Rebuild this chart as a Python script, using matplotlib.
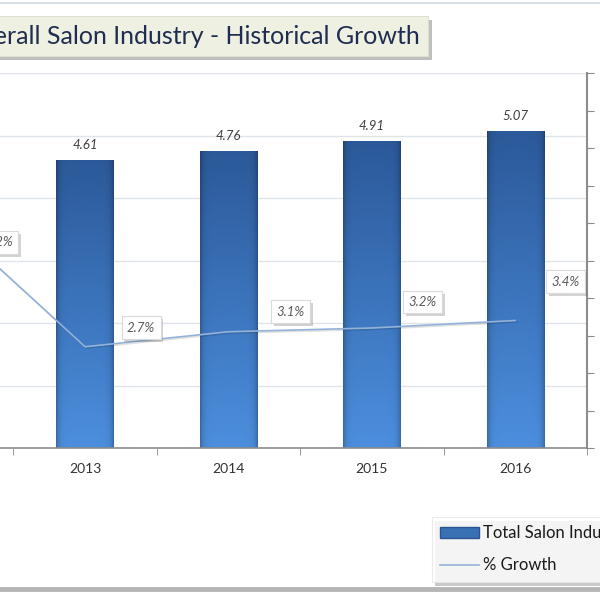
import numpy as np
import matplotlib
matplotlib.use("Agg")
import matplotlib.pyplot as plt
import matplotlib.patheffects as pe
from matplotlib.lines import Line2D
from matplotlib.patches import Patch
from matplotlib.ticker import MultipleLocator

plt.rcParams['font.family'] = ['Lato', 'DejaVu Sans']

years = ['2012', '2013', '2014', '2015', '2016']
revenue = [4.47, 4.61, 4.76, 4.91, 5.07]      # total salon industry, bn
growth = [6.2, 2.7, 3.1, 3.2, 3.4]            # % growth
# label offsets for the growth boxes (pixels)
growth_offsets = [(57, -27), (56, 19), (62, 20), (51, 26), (50, 39)]

W = 600
fig = plt.figure(figsize=(6, 6), dpi=100)
fig.patch.set_facecolor('white')
ax = fig.add_axes([-130 / W, 152 / W, 717 / W, 375 / W])

x = np.arange(len(years))
bars = ax.bar(x, revenue, width=0.4, color='#3a6fb0', zorder=2)

# gradient fill for the bars
ny, nx = 200, 60
t = np.linspace(0, 1, ny)[:, None, None]
top_c = np.array([0.17, 0.35, 0.60])
bot_c = np.array([0.30, 0.56, 0.87])
base = top_c + (bot_c - top_c) * t
xs = np.linspace(0, 1, nx)
edge = 1 - 0.25 * np.exp(-xs / 0.05) - 0.25 * np.exp(-(1 - xs) / 0.05)
img = np.clip(base * edge[None, :, None], 0, 1)
for b in bars:
    im = ax.imshow(img, extent=[b.get_x(), b.get_x() + b.get_width(), 0, b.get_height()],
                   aspect='auto', zorder=2.1, interpolation='bilinear')
    im.set_clip_path(b)

for xi, v in zip(x, revenue):
    ax.annotate(f'{v:.2f}', (xi, v), xytext=(0, 15), textcoords='offset pixels',
                ha='center', va='center', fontsize=9.5, style='italic', color='#404040')

ax.set_xlim(-0.5, len(years) - 0.5)
ax.set_ylim(0, 6)
ax.yaxis.set_major_locator(MultipleLocator(1))
ax.grid(axis='y', color='#dfe5ea', lw=1)
ax.set_axisbelow(True)
ax.set_xticks(x)
ax.set_xticklabels(years, fontsize=10, color='#333333')
ax.set_xticks(np.arange(-0.5, len(years)), minor=True)
ax.tick_params(axis='x', which='major', length=0, pad=11)
ax.tick_params(axis='x', which='minor', length=5, color='#888888')
ax.tick_params(axis='y', left=False, labelleft=False)
for s in ['top', 'left', 'right']:
    ax.spines[s].set_visible(False)
ax.spines['bottom'].set_color('#8c8c8c')
ax.spines['bottom'].set_linewidth(1.2)
ax.set_facecolor('none')

ax2 = ax.twinx()
ax2.set_ylim(0, 10)
ax2.yaxis.set_major_locator(MultipleLocator(1))
ax2.tick_params(axis='y', right=True, labelright=False, length=5, color='#8c8c8c')
for s in ['top', 'left', 'bottom']:
    ax2.spines[s].set_visible(False)
ax2.spines['right'].set_color('#8c8c8c')
ax2.spines['right'].set_linewidth(1.5)
line_color = '#93b2d8'
ax2.plot(x, growth, color=line_color, lw=1.2, zorder=3,
         path_effects=[pe.SimpleLineShadow(offset=(1, -1), alpha=0.12), pe.Normal()])

for xi, g, off in zip(x, growth, growth_offsets):
    t_ = ax2.annotate(f'{g:.1f}%', (xi, g), xytext=off, textcoords='offset pixels',
                      ha='center', va='center', fontsize=9.5, style='italic', color='#595959',
                      bbox=dict(boxstyle='square,pad=0.4', fc='white', ec='#dadada', lw=0.8),
                      zorder=4, annotation_clip=False)
    t_.get_bbox_patch().set_path_effects([pe.SimplePatchShadow(offset=(2, -2), alpha=0.25), pe.Normal()])

# title
title = fig.text(420 / W, 1 - 36 / W, 'Overall Salon Industry - Historical Growth', ha='right', va='center',
                 fontsize=18, color='#1f2d50',
                 bbox=dict(boxstyle='square,pad=0.33', fc='#eef0e2', ec='#dde0cf', lw=0.8))
title.get_bbox_patch().set_path_effects([pe.SimplePatchShadow(offset=(3, -3), alpha=0.35), pe.Normal()])

# chart frame lines
fig.add_artist(Line2D([0, 1], [1 - 3 / W] * 2, color='#d6e0e6', lw=1.5))
fig.add_artist(Line2D([0, 1], [1 - 589 / W] * 2, color='#b5b5b5', lw=3.5))

# legend
handles = [Patch(facecolor='#3a70b4', edgecolor='#2a5590'),
           Line2D([0], [0], color=line_color, lw=1.2)]
leg = fig.legend(handles, ['Total Salon Industry Revenue', '% Growth'], loc='upper left',
                 bbox_to_anchor=(432 / W, 1 - 517 / W), fontsize=12, frameon=True, fancybox=False,
                 handlelength=2.3, handleheight=0.6, handletextpad=0.25, labelspacing=0.95,
                 borderpad=0.5, borderaxespad=0)
leg.get_frame().set_edgecolor('#e6e6e6')
leg.get_frame().set_linewidth(0.8)
leg.get_frame().set_path_effects([pe.SimplePatchShadow(offset=(2, -3), alpha=0.3), pe.Normal()])
for txt in leg.get_texts():
    txt.set_color('#1a1a1a')

fig.savefig('out.png', dpi=100)
